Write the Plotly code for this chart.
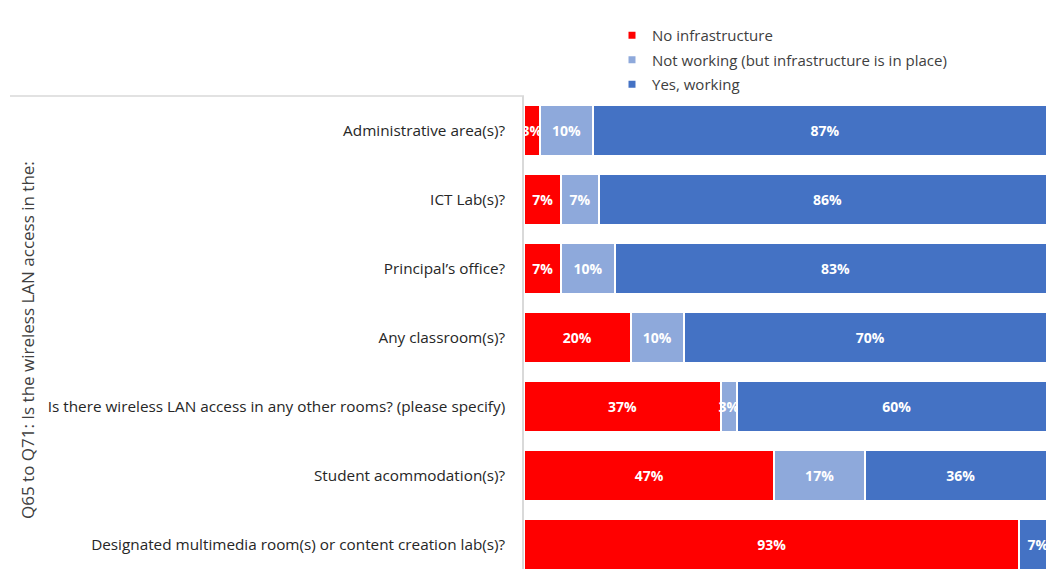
import plotly.graph_objects as go

categories = [
    "Administrative area(s)?",
    "ICT Lab(s)?",
    "Principal\u2019s office?",
    "Any classroom(s)?",
    "Is there wireless LAN access in any other rooms? (please specify)",
    "Student acommodation(s)?",
    "Designated multimedia room(s) or content creation lab(s)?",
]
no_infra = [3, 7, 7, 20, 37, 47, 93]
not_working = [10, 7, 10, 10, 3, 17, 0]
yes_working = [87, 86, 83, 70, 60, 36, 7]

series = [
    ("No infrastructure", no_infra, "#FF0000"),
    ("Not working (but infrastructure is in place)", not_working, "#8EA9DB"),
    ("Yes, working", yes_working, "#4472C4"),
]

W, H = 1046, 569
L, T = 524, 96
pw, ph = W - L, H - T

fig = go.Figure()
for i, (name, vals, col) in enumerate(series):
    fig.add_trace(go.Bar(
        y=categories, x=vals, orientation="h", name=name,
        marker=dict(color=col, line=dict(color="white", width=2)),
        text=[f"{v}%" if v > 0 else "" for v in vals],
        textposition="inside", insidetextanchor="middle", textangle=0,
        textfont=dict(color="white", size=14, family="Open Sans", weight="bold"),
        constraintext="none",
        width=0.74, showlegend=False, hoverinfo="skip",
    ))
    fig.add_trace(go.Scatter(
        x=[None], y=[None], mode="markers", name=name,
        marker=dict(symbol="square", size=7, color=col),
        legendgroup=f"g{i}", showlegend=True,
    ))

fig.update_layout(
    width=W, height=H, barmode="stack",
    margin=dict(l=L, r=0, t=T, b=0, autoexpand=False),
    plot_bgcolor="white", paper_bgcolor="white",
    font=dict(family="Open Sans", color="#262626"),
    uniformtext=dict(mode="show", minsize=14),
    bargap=0.26,
    legend=dict(
        x=(612 - L) / pw, y=1 + (T - 19) / ph, xanchor="left", yanchor="top",
        font=dict(size=15, color="#404040", family="Open Sans"),
        traceorder="grouped", tracegroupgap=2, itemwidth=30,
        bgcolor="rgba(0,0,0,0)",
    ),
    xaxis=dict(range=[0, 98], showgrid=False, showticklabels=False,
               zeroline=False, showline=False, fixedrange=True),
    yaxis=dict(range=[-0.5 + ph / 69, -0.5], type="category",
               showgrid=False, showline=True, linecolor="#D9D9D9", linewidth=1.5,
               ticks="", ticklabelstandoff=14,
               tickfont=dict(size=15.3, color="#262626", family="Open Sans")),
    shapes=[dict(type="line", xref="paper", yref="paper",
                 x0=(10 - L) / pw, x1=0, y0=1, y1=1,
                 line=dict(color="#D9D9D9", width=1.5))],
    annotations=[dict(
        text="Q65 to Q71: Is the wireless LAN access in the:",
        xref="paper", yref="paper", x=(27 - L) / pw, y=(H - 340) / ph,
        textangle=-90, showarrow=False, xanchor="center", yanchor="middle",
        font=dict(size=17, color="#404040", family="Open Sans"),
    )],
)

fig.write_html("out.html", config={"displayModeBar": False},
               post_script="document.body.style.margin='0';")
